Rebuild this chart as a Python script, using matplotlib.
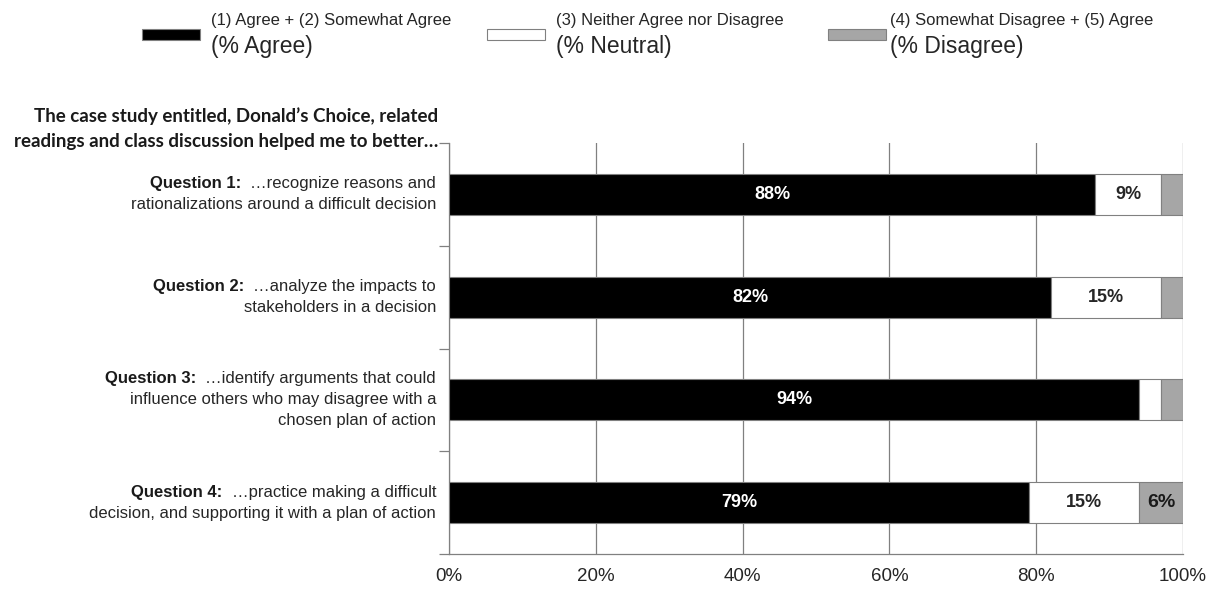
import matplotlib
matplotlib.use("Agg")
import matplotlib.pyplot as plt
from matplotlib.patches import Rectangle
import numpy as np

# ---- data ----
questions = ["Question 1:", "Question 2:", "Question 3:", "Question 4:"]
q_text = [
    ["\u2026recognize reasons and", "rationalizations around a difficult decision"],
    ["\u2026analyze the impacts to", "stakeholders in a decision"],
    ["\u2026identify arguments that could", "influence others who may disagree with a", "chosen plan of action"],
    ["\u2026practice making a difficult", "decision, and supporting it with a plan of action"],
]
agree = [88, 82, 94, 79]
neutral = [9, 15, 3, 15]
disagree = [3, 3, 3, 6]
show_agree = [True, True, True, True]
show_neutral = [True, True, False, True]
show_disagree = [False, False, False, True]
xticks = [0, 20, 40, 60, 80, 100]
xticklabels = ["0%", "20%", "40%", "60%", "80%", "100%"]
header = ["The case study entitled, Donald\u2019s Choice, related",
          "readings and class discussion helped me to better\u2026"]
legend_small = ["(1) Agree + (2) Somewhat Agree", "(3) Neither Agree nor Disagree",
                "(4) Somewhat Disagree + (5) Agree"]
legend_big = ["(% Agree)", "(% Neutral)", "(% Disagree)"]

W, H = 1212, 589
fig = plt.figure(figsize=(W / 100, H / 100), dpi=100)
plt.rcParams['font.family'] = ['Liberation Sans', 'DejaVu Sans']

L, R, T, B = 449, 1183, 143, 554
ax = fig.add_axes([L / W, 1 - B / H, (R - L) / W, (B - T) / H])

n = len(questions)
y = np.arange(n)
grey_edge = "#808080"
txt = "#262626"
bh = 0.40
ax.barh(y, agree, height=bh, color="black", edgecolor=grey_edge, linewidth=0.8, zorder=3)
ax.barh(y, neutral, left=agree, height=bh, color="white", edgecolor=grey_edge, linewidth=0.8, zorder=3)
left3 = np.array(agree) + np.array(neutral)
ax.barh(y, disagree, left=left3, height=bh, color="#a6a6a6", edgecolor=grey_edge, linewidth=0.8, zorder=3)

for i in range(n):
    if show_agree[i]:
        ax.text(agree[i] / 2, y[i], f"{agree[i]}%", ha="center", va="center", color="white",
                fontsize=13, fontweight="bold", zorder=4)
    if show_neutral[i]:
        ax.text(agree[i] + neutral[i] / 2, y[i], f"{neutral[i]}%", ha="center", va="center",
                color=txt, fontsize=13, fontweight="bold", zorder=4)
    if show_disagree[i]:
        ax.text(left3[i] + disagree[i] / 2, y[i], f"{disagree[i]}%", ha="center", va="center",
                color="#1a1a1a", fontsize=14, fontweight="bold", zorder=4)

ax.set_xlim(0, 100)
ax.set_ylim(n - 0.5, -0.5)
ax.set_xticks(xticks)
ax.set_xticklabels(xticklabels, fontsize=13.5, color=txt)
ax.tick_params(axis="x", length=0, pad=10)
ax.set_yticks(np.arange(-0.5, n, 1.0))
ax.set_yticklabels([])
ax.tick_params(axis="y", length=7, color=grey_edge, width=0.9, direction="out")
ax.grid(axis="x", color=grey_edge, linewidth=0.9, zorder=0)
ax.set_axisbelow(True)
for s in ["top", "right"]:
    ax.spines[s].set_visible(False)
for s in ["left", "bottom"]:
    ax.spines[s].set_color(grey_edge)
    ax.spines[s].set_linewidth(0.9)

# category labels with bold prefix
fig.canvas.draw()
renderer = fig.canvas.get_renderer()
line_h = 21
xoff = -13
for i in range(n):
    lines = q_text[i]
    k = len(lines)
    for j, ln in enumerate(lines):
        dy = -(j - (k - 1) / 2) * line_h
        t = ax.annotate(ln, xy=(0, y[i]), xycoords=ax.get_yaxis_transform(),
                        xytext=(xoff, dy), textcoords="offset pixels",
                        ha="right", va="center", fontsize=12, color=txt)
        if j == 0:
            wpx = t.get_window_extent(renderer).width
            ax.annotate(questions[i], xy=(0, y[i]), xycoords=ax.get_yaxis_transform(),
                        xytext=(xoff - wpx - 9, dy), textcoords="offset pixels",
                        ha="right", va="center", fontsize=12, fontweight="bold", color="#1a1a1a")

# header
for j, ln in enumerate(header):
    fig.text(438 / W, 1 - (116 + 25 * j) / H, ln, ha="right", va="center",
             fontsize=13.5, fontweight="bold", family=["Lato", "DejaVu Sans"], color="#1a1a1a")

# legend
patch_x = [142, 487, 828]
text_x = [211, 556, 890]
colors = ["black", "white", "#a6a6a6"]
for k in range(3):
    fig.patches.append(Rectangle((patch_x[k] / W, 1 - 40 / H), 58 / W, 11 / H,
                                 transform=fig.transFigure, facecolor=colors[k],
                                 edgecolor=grey_edge, linewidth=0.8))
    fig.text(text_x[k] / W, 1 - 21 / H, legend_small[k], ha="left", va="center",
             fontsize=12, color=txt)
    fig.text(text_x[k] / W, 1 - 47 / H, legend_big[k], ha="left", va="center",
             fontsize=16.5, color=txt)

fig.savefig("out.png", dpi=100, facecolor="white")
